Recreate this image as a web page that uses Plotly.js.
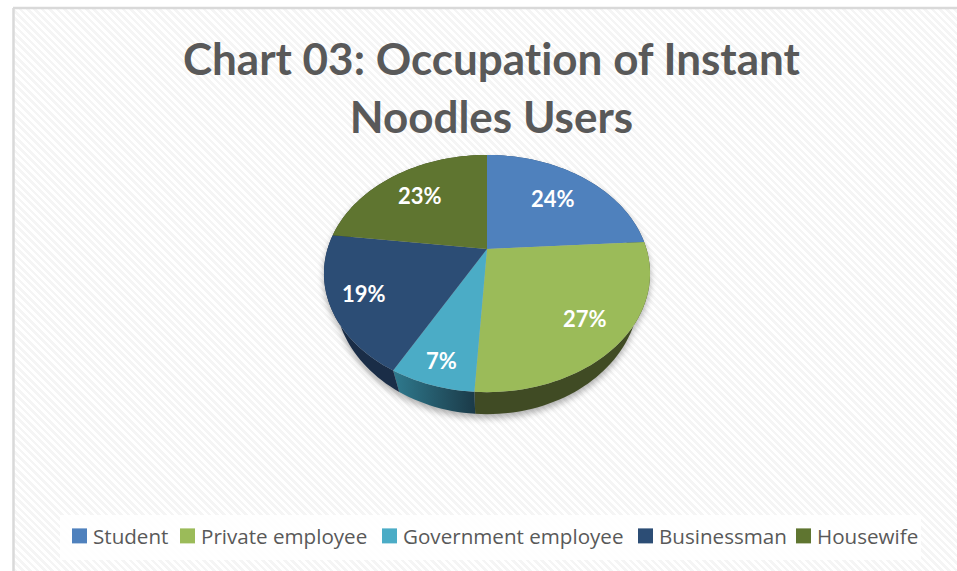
<!DOCTYPE html>
<html>
<head>
<meta charset="utf-8">
<script src="https://cdn.plot.ly/plotly-3.0.1.min.js"></script>
<style>
html,body{margin:0;padding:0;background:#fff;width:957px;height:571px;overflow:hidden}
#bg{position:absolute;left:14px;top:9px;right:0;bottom:0;background:repeating-linear-gradient(45deg,#f5f5f5 0,#f5f5f5 2.6px,#ffffff 2.6px,#ffffff 5.2px)}
#chart{position:absolute;left:0;top:0;width:957px;height:571px}
#chart text{font-variant-ligatures:none !important;font-feature-settings:"liga" 0,"clig" 0 !important}
#chart .scatterlayer{filter:drop-shadow(0 4px 3px rgba(0,0,0,.3))}
</style>
</head>
<body>
<div id="bg"></div>
<div id="chart"></div>
<script>
const categories = ["Student","Private employee","Government employee","Businessman","Housewife"];
const shares = [24,27,7,19,23];
const topColors = ["#4F81BD","#9BBB59","#4BACC6","#2C4D75","#5F7530"];
const wallColors = ["#2F4C70","#404B24","#24566A","#1A2D47","#38451C"];
const chartTitle = "Chart 03: Occupation of Instant<br>Noodles Users";

// projection of the tilted pie onto the page (page pixels are the axis units)
const hub = {x:487, y:249}, radius = {x:159.5, y:113.5}, persp = 0.207, depth = 17.5, wallShrink = 0.935;
const labelReach = [0.67,0.77,0.85,0.8,0.7];
const legendTextX = [93,201,403,659,817];

function project(share, r){
  const t = share/100*2*Math.PI, X = r*Math.sin(t), Y = r*Math.cos(t), w = 1+persp*Y;
  return {x: hub.x+radius.x*X/w, y: hub.y-radius.y*Y/w, w};
}
function arc(a,b){
  const n = Math.max(2,Math.round((b-a)*2)), out = [];
  for(let i=0;i<=n;i++) out.push(project(a+(b-a)*i/n,1));
  return out;
}
let acc = 0;
const starts = shares.map(v=>{const s=acc; acc+=v; return s;});

const wallTraces = shares.map((v,i)=>{
  const rim = arc(starts[i],starts[i]+v);
  const low = rim.map(p=>({x:hub.x+(p.x-hub.x)*wallShrink, y:p.y+depth/p.w})).reverse();
  const pts = rim.concat(low);
  const tr = {type:"scatter",mode:"none",fill:"toself",fillcolor:wallColors[i],
    x:pts.map(p=>p.x),y:pts.map(p=>p.y),showlegend:false,hoverinfo:"skip"};
  if(i===2) tr.fillgradient = {type:"horizontal",colorscale:[[0,"#2F7A8E"],[1,"#1B3A48"]]};
  return tr;
});
const topTraces = shares.map((v,i)=>{
  const pts = [hub].concat(arc(starts[i],starts[i]+v),[hub]);
  return {type:"scatter",mode:"none",fill:"toself",fillcolor:topColors[i],name:categories[i],
    x:pts.map(p=>p.x),y:pts.map(p=>p.y),showlegend:false,hoverinfo:"name"};
});
const legendTraces = categories.map((c,i)=>({type:"scatter",mode:"markers",name:c,x:[null],y:[null],
  marker:{symbol:"square",size:15,color:topColors[i]},showlegend:true,hoverinfo:"skip"}));

const labels = shares.map((v,i)=>{
  const p = project(starts[i]+v/2,labelReach[i]);
  return {x:p.x,y:p.y,xref:"x",yref:"y",text:v+"%",showarrow:false,
    font:{family:"Lato, sans-serif",size:22,color:"#fff",weight:700}};
});

const layout = {
  width:957,height:571,margin:{l:0,r:0,t:0,b:0},
  paper_bgcolor:"rgba(0,0,0,0)",plot_bgcolor:"rgba(0,0,0,0)",
  xaxis:{range:[0,957],visible:false,fixedrange:true},
  yaxis:{range:[571,0],visible:false,fixedrange:true},
  title:{text:chartTitle,x:0.5135,xanchor:"center",y:0.868,yanchor:"bottom",
    font:{family:"Lato, sans-serif",size:44,color:"#595959",weight:700}},
  showlegend:true,
  legend:{orientation:"h",x:0.05,xanchor:"left",y:1-536/571,yanchor:"middle",
    bgcolor:"rgba(0,0,0,0)",itemwidth:30,itemclick:false,itemdoubleclick:false,
    font:{family:"Open Sans, sans-serif",size:20.6,color:"#595959"}},
  shapes:[
    {type:"rect",layer:"below",x0:60,x1:921,y0:515,y1:560,line:{width:0},fillcolor:"rgba(255,255,255,0.85)"},
    {type:"line",x0:13.5,x1:13.5,y0:8,y1:571,line:{color:"#d9d9d9",width:2.5}},
    {type:"line",x0:13,x1:957,y0:8,y1:8,line:{color:"#d9d9d9",width:2.5}}
  ],
  annotations:labels
};

Plotly.newPlot("chart",wallTraces.concat(topTraces,legendTraces),layout,{displayModeBar:false}).then(()=>{
  // tighten legend: native swatch sits further from its text than in the reference
  const legendEl = document.querySelector("#chart .legend");
  const legendLeft = parseFloat(legendEl.getAttribute("transform").match(/translate\(\s*([\d.\-]+)/)[1]);
  document.querySelectorAll("#chart .legend .traces").forEach((g,i)=>{
    g.setAttribute("transform",`translate(${legendTextX[i]-legendLeft-40},${(g.getAttribute("transform").match(/,\s*([\d.\-]+)/)||[0,15])[1]})`);
    const pts = g.querySelector(".legendpoints");
    if(pts) pts.setAttribute("transform","translate(6.5,0)");
  });
});
</script>
</body>
</html>
